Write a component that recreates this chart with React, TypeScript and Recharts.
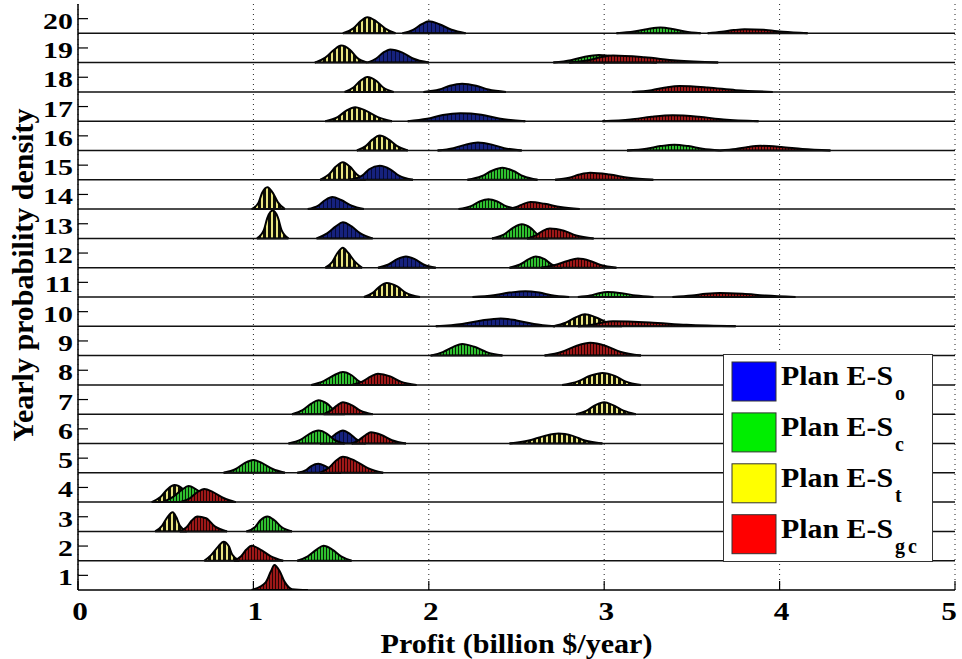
import { ComposedChart, Area, XAxis, YAxis, CartesianGrid, ReferenceLine, Legend, Label } from 'recharts'

const FONT = '"Liberation Serif", "Times New Roman", serif'

type Pt = [number, number]
type Bump = [number, Pt[]] // [year, [profit, density]...]

const years = [1, 2, 3, 4, 5, 6, 7, 8, 9, 10, 11, 12, 13, 14, 15, 16, 17, 18, 19, 20]
const profitTicks = [0, 1, 2, 3, 4, 5]

const plans = [
  { id: 'o', label: 'Plan E-S', sub: 'o', color: '#0000ff' },
  { id: 'c', label: 'Plan E-S', sub: 'c', color: '#00ee00' },
  { id: 't', label: 'Plan E-S', sub: 't', color: '#ffff00' },
  { id: 'gc', label: 'Plan E-S', sub: 'gc', color: '#ff0000' },
]

// Plan E-St
const yellowBumps: Bump[] = [
  [20, [[1.51, 0], [1.57, 0.17], [1.61, 0.41], [1.65, 0.55], [1.70, 0.41], [1.75, 0.17], [1.81, 0]]],
  [19, [[1.35, 0], [1.41, 0.17], [1.46, 0.44], [1.50, 0.58], [1.55, 0.44], [1.59, 0.17], [1.65, 0]]],
  [18, [[1.52, 0], [1.57, 0.15], [1.61, 0.38], [1.65, 0.51], [1.70, 0.38], [1.74, 0.15], [1.80, 0]]],
  [17, [[1.41, 0], [1.48, 0.14], [1.53, 0.36], [1.58, 0.48], [1.64, 0.36], [1.71, 0.14], [1.79, 0]]],
  [16, [[1.59, 0], [1.64, 0.15], [1.68, 0.38], [1.72, 0.51], [1.77, 0.38], [1.82, 0.15], [1.88, 0]]],
  [15, [[1.38, 0], [1.43, 0.18], [1.47, 0.45], [1.51, 0.6], [1.55, 0.45], [1.59, 0.18], [1.64, 0]]],
  [14, [[0.99, 0], [1.03, 0.23], [1.05, 0.56], [1.08, 0.75], [1.11, 0.56], [1.14, 0.23], [1.18, 0]]],
  [13, [[1.02, 0], [1.06, 0.29], [1.08, 0.71], [1.11, 0.95], [1.14, 0.71], [1.16, 0.29], [1.20, 0]]],
  [12, [[1.41, 0], [1.45, 0.2], [1.48, 0.51], [1.51, 0.68], [1.54, 0.51], [1.58, 0.2], [1.62, 0]]],
  [11, [[1.63, 0], [1.68, 0.14], [1.72, 0.36], [1.76, 0.48], [1.82, 0.36], [1.87, 0.14], [1.95, 0]]],
  [10, [[2.71, 0], [2.78, 0.12], [2.84, 0.31], [2.89, 0.41], [2.95, 0.31], [3.02, 0.12], [3.10, 0]]],
  [8, [[2.76, 0], [2.85, 0.12], [2.92, 0.31], [2.99, 0.41], [3.06, 0.31], [3.12, 0.12], [3.21, 0]]],
  [7, [[2.84, 0], [2.90, 0.12], [2.95, 0.31], [3.00, 0.41], [3.05, 0.31], [3.11, 0.12], [3.18, 0]]],
  [6, [[2.46, 0], [2.57, 0.1], [2.66, 0.26], [2.74, 0.34], [2.82, 0.26], [2.89, 0.1], [2.99, 0]]],
  [4, [[0.42, 0], [0.47, 0.17], [0.51, 0.44], [0.55, 0.58], [0.60, 0.44], [0.64, 0.17], [0.70, 0]]],
  [3, [[0.44, 0], [0.48, 0.2], [0.51, 0.49], [0.54, 0.65], [0.56, 0.49], [0.58, 0.2], [0.62, 0]]],
  [2, [[0.72, 0], [0.76, 0.2], [0.80, 0.49], [0.83, 0.65], [0.86, 0.49], [0.88, 0.2], [0.92, 0]]],
]

// Plan E-So
const blueBumps: Bump[] = [
  [20, [[1.85, 0], [1.91, 0.12], [1.96, 0.31], [2.00, 0.41], [2.06, 0.31], [2.13, 0.12], [2.21, 0]]],
  [19, [[1.65, 0], [1.70, 0.14], [1.74, 0.34], [1.78, 0.45], [1.85, 0.34], [1.91, 0.14], [2.00, 0]]],
  [18, [[1.97, 0], [2.06, 0.08], [2.12, 0.21], [2.19, 0.28], [2.27, 0.21], [2.34, 0.08], [2.44, 0]]],
  [17, [[1.88, 0], [1.99, 0.08], [2.08, 0.21], [2.18, 0.27], [2.30, 0.22], [2.40, 0.09], [2.55, 0]]],
  [16, [[2.05, 0], [2.14, 0.08], [2.21, 0.2], [2.28, 0.27], [2.36, 0.2], [2.43, 0.08], [2.53, 0]]],
  [15, [[1.55, 0], [1.62, 0.14], [1.66, 0.36], [1.72, 0.48], [1.78, 0.36], [1.83, 0.14], [1.91, 0]]],
  [14, [[1.31, 0], [1.37, 0.12], [1.41, 0.31], [1.45, 0.41], [1.50, 0.31], [1.56, 0.12], [1.63, 0]]],
  [13, [[1.36, 0], [1.42, 0.17], [1.47, 0.41], [1.51, 0.55], [1.56, 0.41], [1.61, 0.17], [1.68, 0]]],
  [12, [[1.71, 0], [1.77, 0.11], [1.82, 0.29], [1.87, 0.38], [1.92, 0.29], [1.97, 0.11], [2.04, 0]]],
  [11, [[2.25, 0], [2.37, 0.06], [2.46, 0.15], [2.55, 0.2], [2.63, 0.15], [2.70, 0.06], [2.80, 0]]],
  [10, [[2.04, 0], [2.19, 0.08], [2.30, 0.2], [2.41, 0.27], [2.50, 0.2], [2.60, 0.08], [2.72, 0]]],
  [6, [[1.38, 0], [1.43, 0.13], [1.47, 0.33], [1.51, 0.44], [1.55, 0.33], [1.59, 0.13], [1.64, 0]]],
  [5, [[1.25, 0], [1.30, 0.09], [1.33, 0.23], [1.37, 0.31], [1.41, 0.23], [1.45, 0.09], [1.50, 0]]],
]

// Plan E-Sc
const greenBumps: Bump[] = [
  [20, [[3.07, 0], [3.17, 0.06], [3.25, 0.15], [3.32, 0.2], [3.39, 0.15], [3.46, 0.06], [3.55, 0]]],
  [19, [[2.71, 0], [2.81, 0.08], [2.89, 0.2], [2.97, 0.26], [3.07, 0.2], [3.17, 0.08], [3.30, 0]]],
  [16, [[3.13, 0], [3.24, 0.06], [3.32, 0.15], [3.40, 0.2], [3.48, 0.15], [3.56, 0.06], [3.66, 0]]],
  [15, [[2.22, 0], [2.30, 0.12], [2.36, 0.31], [2.42, 0.41], [2.48, 0.31], [2.54, 0.12], [2.62, 0]]],
  [14, [[2.17, 0], [2.24, 0.1], [2.29, 0.26], [2.34, 0.34], [2.39, 0.26], [2.44, 0.1], [2.50, 0]]],
  [13, [[2.36, 0], [2.43, 0.14], [2.48, 0.36], [2.53, 0.48], [2.58, 0.36], [2.62, 0.14], [2.68, 0]]],
  [12, [[2.46, 0], [2.52, 0.11], [2.57, 0.29], [2.61, 0.38], [2.66, 0.29], [2.70, 0.11], [2.76, 0]]],
  [11, [[2.85, 0], [2.92, 0.05], [2.97, 0.13], [3.02, 0.17], [3.10, 0.13], [3.18, 0.05], [3.28, 0]]],
  [9, [[2.01, 0], [2.08, 0.12], [2.14, 0.3], [2.19, 0.4], [2.26, 0.3], [2.33, 0.12], [2.42, 0]]],
  [8, [[1.33, 0], [1.40, 0.13], [1.46, 0.33], [1.51, 0.44], [1.56, 0.33], [1.60, 0.13], [1.66, 0]]],
  [7, [[1.22, 0], [1.28, 0.14], [1.33, 0.36], [1.37, 0.48], [1.42, 0.36], [1.46, 0.14], [1.52, 0]]],
  [6, [[1.20, 0], [1.27, 0.13], [1.32, 0.33], [1.37, 0.44], [1.42, 0.33], [1.46, 0.13], [1.52, 0]]],
  [5, [[0.83, 0], [0.90, 0.13], [0.95, 0.33], [1.00, 0.44], [1.05, 0.33], [1.11, 0.13], [1.18, 0]]],
  [4, [[0.48, 0], [0.54, 0.17], [0.59, 0.41], [0.63, 0.55], [0.68, 0.41], [0.73, 0.17], [0.80, 0]]],
  [3, [[0.96, 0], [1.01, 0.15], [1.04, 0.38], [1.08, 0.51], [1.12, 0.38], [1.16, 0.15], [1.22, 0]]],
  [2, [[1.25, 0], [1.31, 0.15], [1.36, 0.38], [1.40, 0.51], [1.45, 0.38], [1.50, 0.15], [1.56, 0]]],
]

// Plan E-Sgc
const redBumps: Bump[] = [
  [20, [[3.59, 0], [3.67, 0.05], [3.74, 0.11], [3.80, 0.14], [3.91, 0.12], [4.02, 0.05], [4.16, 0]]],
  [19, [[2.80, 0], [2.90, 0.07], [2.98, 0.18], [3.05, 0.24], [3.23, 0.18], [3.41, 0.07], [3.65, 0]]],
  [18, [[3.16, 0], [3.27, 0.06], [3.35, 0.15], [3.43, 0.2], [3.59, 0.15], [3.75, 0.06], [3.96, 0]]],
  [17, [[2.99, 0], [3.15, 0.06], [3.27, 0.15], [3.39, 0.2], [3.54, 0.15], [3.68, 0.06], [3.88, 0]]],
  [16, [[3.66, 0], [3.75, 0.05], [3.82, 0.12], [3.89, 0.16], [4.01, 0.12], [4.13, 0.05], [4.29, 0]]],
  [15, [[2.72, 0], [2.80, 0.07], [2.86, 0.18], [2.92, 0.24], [3.03, 0.18], [3.14, 0.07], [3.28, 0]]],
  [14, [[2.44, 0], [2.50, 0.07], [2.54, 0.18], [2.58, 0.24], [2.66, 0.18], [2.75, 0.07], [2.86, 0]]],
  [13, [[2.56, 0], [2.61, 0.1], [2.65, 0.26], [2.69, 0.34], [2.77, 0.26], [2.84, 0.1], [2.94, 0]]],
  [12, [[2.64, 0], [2.72, 0.09], [2.79, 0.23], [2.85, 0.31], [2.92, 0.23], [2.98, 0.09], [3.07, 0]]],
  [11, [[3.39, 0], [3.50, 0.05], [3.58, 0.11], [3.66, 0.14], [3.79, 0.11], [3.92, 0.05], [4.09, 0]]],
  [10, [[2.85, 0], [2.93, 0.05], [2.99, 0.13], [3.05, 0.17], [3.26, 0.13], [3.47, 0.05], [3.75, 0]]],
  [9, [[2.66, 0], [2.76, 0.13], [2.84, 0.33], [2.92, 0.44], [3.01, 0.33], [3.09, 0.13], [3.21, 0]]],
  [8, [[1.56, 0], [1.62, 0.11], [1.67, 0.29], [1.71, 0.38], [1.78, 0.29], [1.84, 0.11], [1.93, 0]]],
  [7, [[1.40, 0], [1.44, 0.12], [1.48, 0.31], [1.51, 0.41], [1.56, 0.31], [1.61, 0.12], [1.68, 0]]],
  [6, [[1.56, 0], [1.60, 0.11], [1.64, 0.29], [1.67, 0.38], [1.73, 0.29], [1.79, 0.11], [1.87, 0]]],
  [5, [[1.38, 0], [1.43, 0.17], [1.47, 0.41], [1.51, 0.55], [1.58, 0.41], [1.65, 0.17], [1.74, 0]]],
  [4, [[0.58, 0], [0.64, 0.14], [0.68, 0.34], [0.72, 0.45], [0.77, 0.34], [0.83, 0.14], [0.90, 0]]],
  [3, [[0.58, 0], [0.62, 0.15], [0.65, 0.38], [0.68, 0.51], [0.73, 0.45], [0.78, 0.17], [0.85, 0]]],
  [2, [[0.89, 0], [0.93, 0.15], [0.96, 0.38], [0.99, 0.51], [1.04, 0.38], [1.10, 0.15], [1.17, 0]]],
  [1, [[0.99, 0], [1.07, 0.26], [1.10, 0.64], [1.12, 0.85], [1.15, 0.64], [1.18, 0.26], [1.22, 0.03], [1.31, 0]]],
]

// draw order: yellow under blue, red on top
const layers: Array<[string, Bump[]]> = [
  ['t', yellowBumps],
  ['o', blueBumps],
  ['c', greenBumps],
  ['gc', redBumps],
]

const YearTick = (props: any) => {
  const { x, y, payload } = props
  return (
    <g>
      <line x1={x} x2={x + 10} y1={y} y2={y} stroke="#000" strokeWidth={1.2} />
      <text
        transform={`translate(${x - 5},${y + 10}) scale(1.3,1)`}
        textAnchor="end"
        fontSize={23}
        fontWeight="bold"
        fontFamily={FONT}
        fill="#000"
      >
        {payload.value}
      </text>
    </g>
  )
}

const ProfitTick = (props: any) => {
  const { x, y, payload } = props
  // the last label sits against the right edge of the page
  const dx = payload.value === 5 ? -6 : 2
  return (
    <g>
      <line x1={x} x2={x} y1={y} y2={y - 9} stroke="#000" strokeWidth={1.2} />
      <text
        transform={`translate(${x + dx},${y + 30}) scale(1.25,1)`}
        textAnchor="middle"
        fontSize={25}
        fontWeight="bold"
        fontFamily={FONT}
        fill="#000"
      >
        {payload.value}
      </text>
    </g>
  )
}

const XTitle = (props: any) => {
  const vb = props.viewBox || { x: 78, y: 590, width: 877, height: 69 }
  return (
    <text
      x={vb.x + vb.width / 2}
      y={vb.y + 63}
      textAnchor="middle"
      fontSize={27}
      fontWeight="bold"
      fontFamily={FONT}
      fill="#000"
      textLength={272}
      lengthAdjust="spacingAndGlyphs"
    >
      Profit (billion $/year)
    </text>
  )
}

const YTitle = (props: any) => {
  const vb = props.viewBox || { x: 0, y: 4, width: 78, height: 586 }
  return (
    <text
      transform={`translate(${vb.x + 33},${vb.y + vb.height / 2 - 22}) rotate(-90)`}
      textAnchor="middle"
      fontSize={30}
      fontWeight="bold"
      fontFamily={FONT}
      fill="#000"
    >
      Yearly probability density
    </text>
  )
}

const LegendBox = () => (
  <svg width={210} height={208} style={{ display: 'block' }}>
    <rect x={0.5} y={0.5} width={209} height={207} fill="#fff" stroke="#333" />
    {plans.map((p, i) => (
      <g key={p.id}>
        <rect x={9} y={8 + i * 50.9} width={44} height={39} fill={p.color} stroke="#333" />
        <text
          x={58}
          y={31 + i * 50.9}
          fontSize={28}
          fontWeight="bold"
          fontFamily={FONT}
          fill="#000"
          textLength={112}
          lengthAdjust="spacingAndGlyphs"
        >
          {p.label}
        </text>
        <text
          x={172}
          y={46 + i * 50.9}
          fontSize={20}
          fontWeight="bold"
          fontFamily={FONT}
          fill="#000"
          letterSpacing={p.sub.length > 1 ? 3 : 0}
        >
          {p.sub}
        </text>
      </g>
    ))}
  </svg>
)

export default function App() {
  return (
    <div style={{ position: 'absolute', left: 0, top: 0, width: 962, height: 659, background: '#fff' }}>
      <ComposedChart width={962} height={659} margin={{ top: 4, right: 7, bottom: 0, left: 0 }}>
        <defs>
          <pattern id="pat-o" width="4" height="4" patternUnits="userSpaceOnUse">
            <rect width="4" height="4" fill="#16227e" />
            <rect x="3" width="1" height="4" fill="#070b38" />
          </pattern>
          <pattern id="pat-c" width="3" height="3" patternUnits="userSpaceOnUse">
            <rect width="3" height="3" fill="#2fbf2f" />
            <rect x="2" width="1" height="3" fill="#062006" />
          </pattern>
          <pattern id="pat-t" width="5" height="5" patternUnits="userSpaceOnUse">
            <rect width="5" height="5" fill="#0e0e06" />
            <rect x="1" width="2" height="5" fill="#e8e47e" />
          </pattern>
          <pattern id="pat-gc" width="3" height="3" patternUnits="userSpaceOnUse">
            <rect width="3" height="3" fill="#9e1818" />
            <rect x="2" width="1" height="3" fill="#260303" />
          </pattern>
        </defs>
        <CartesianGrid horizontal={false} stroke="#222" strokeDasharray="1 4" />
        <XAxis
          dataKey="x"
          type="number"
          domain={[0, 5]}
          ticks={profitTicks}
          interval={0}
          allowDataOverflow
          height={69}
          tickSize={0}
          tickMargin={0}
          tick={<ProfitTick />}
          axisLine={{ stroke: '#000', strokeWidth: 1.5 }}
        >
          <Label content={<XTitle />} />
        </XAxis>
        <YAxis
          type="number"
          domain={[0.5, 20.5]}
          ticks={years}
          interval={0}
          allowDataOverflow
          width={78}
          tickSize={0}
          tickMargin={0}
          tick={<YearTick />}
          axisLine={{ stroke: '#000', strokeWidth: 1.5 }}
        >
          <Label content={<YTitle />} />
        </YAxis>
        {years.slice(1).map((yr) => (
          <ReferenceLine key={`base-${yr}`} y={yr - 0.5} stroke="#111" strokeWidth={1.5} />
        ))}
        {layers.flatMap(([id, bumps]) =>
          bumps.map(([yr, pts]) => (
            <Area
              key={`${id}-${yr}`}
              data={pts.map(([x, d]) => ({ x, v: [yr - 0.5, yr - 0.5 + d] }))}
              dataKey="v"
              type="monotone"
              stroke="#000"
              strokeWidth={2}
              fill={`url(#pat-${id})`}
              fillOpacity={1}
              dot={false}
              activeDot={false}
              legendType="none"
              isAnimationActive={false}
            />
          ))
        )}
        <Legend
          layout="vertical"
          align="center"
          verticalAlign="middle"
          content={<LegendBox />}
          wrapperStyle={{ position: 'absolute', left: 723, top: 354, width: 210, height: 208 }}
        />
      </ComposedChart>
    </div>
  )
}
